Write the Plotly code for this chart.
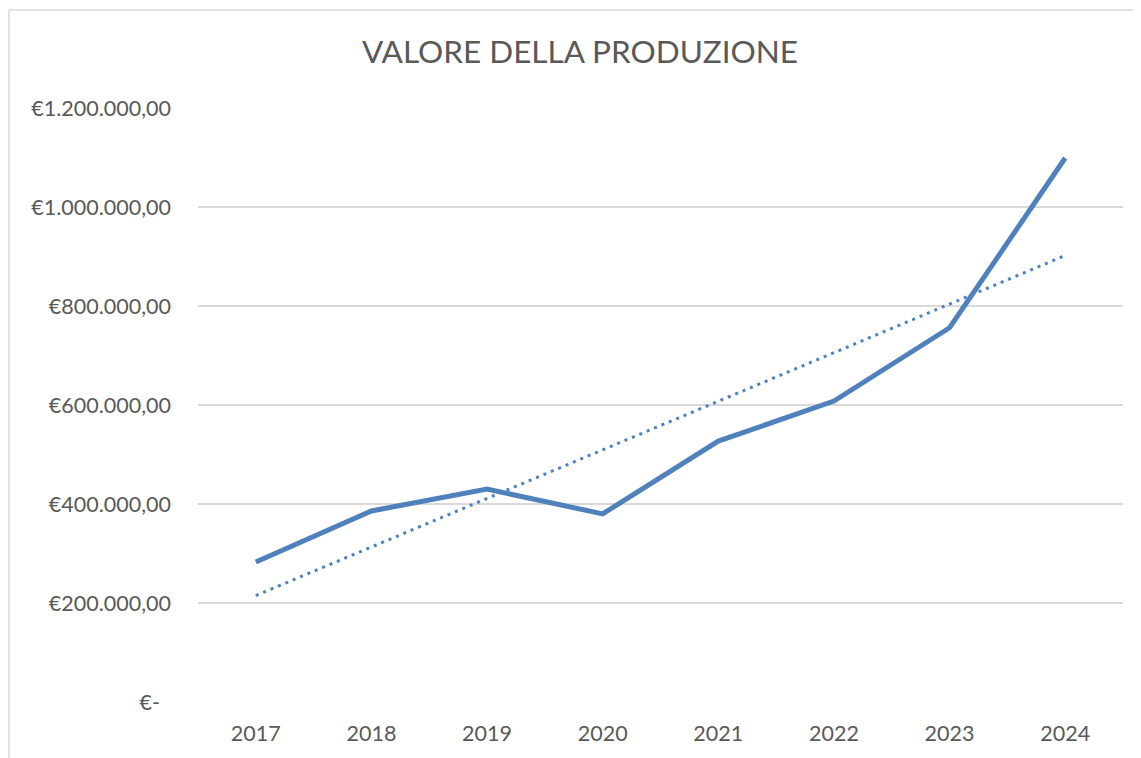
import plotly.graph_objects as go

FONT = "Lato, 'Noto Sans', sans-serif"
LINE_COLOR = "#4F81BD"
GRID_COLOR = "#D9D9D9"
TEXT_COLOR = "#595959"

years = ["2017", "2018", "2019", "2020", "2021", "2022", "2023", "2024"]
valore = [283000, 386000, 430000, 380000, 527000, 608000, 756000, 1099000]

trend_years = ["2017", "2024"]
trend_values = [215000, 902000]

tick_vals = [0, 200000, 400000, 600000, 800000, 1000000, 1200000]
tick_text = ["€-\u00a0\u00a0", "€200.000,00", "€400.000,00", "€600.000,00",
             "€800.000,00", "€1.000.000,00", "€1.200.000,00"]

# the page body adds an 8px offset, so positions are shifted by 8px
W, H = 1141, 758
L, R, T, B = 190, 26, 100, 64
pw, ph = W - L - R, H - T - B

fig = go.Figure()
fig.add_trace(go.Scatter(
    x=trend_years, y=trend_values, mode="lines",
    line=dict(color=LINE_COLOR, width=3, dash="3px,5px"),
    hoverinfo="skip", showlegend=False,
))
fig.add_trace(go.Scatter(
    x=years, y=valore, mode="lines",
    line=dict(color=LINE_COLOR, width=5),
    showlegend=False,
))

# chart border (left and top edges visible in the reference)
fig.add_shape(type="line", xref="paper", yref="paper",
              x0=(1 - L) / pw, x1=(W + 5 - L) / pw,
              y0=(H - B - 2) / ph, y1=(H - B - 2) / ph,
              line=dict(color=GRID_COLOR, width=1.5))
fig.add_shape(type="line", xref="paper", yref="paper",
              x0=(1 - L) / pw, x1=(1 - L) / pw,
              y0=(H - B - 2) / ph, y1=-(B + 5) / ph,
              line=dict(color=GRID_COLOR, width=1.5))

fig.update_layout(
    width=W, height=H,
    margin=dict(l=L, r=R, t=T, b=B),
    plot_bgcolor="white", paper_bgcolor="white",
    font=dict(family=FONT, color=TEXT_COLOR, size=21.5),
    title=dict(text="VALORE DELLA PRODUZIONE", x=572 / W, xanchor="center",
               y=1 - 44 / H, yanchor="middle",
               font=dict(size=31.5, color=TEXT_COLOR, family=FONT)),
    xaxis=dict(type="category", categoryorder="array", categoryarray=years,
               range=[-0.5, 7.5], showgrid=False,
               showline=False, zeroline=False, ticks="",
               ticklabelstandoff=16),
    yaxis=dict(range=[0, 1200000], tickvals=tick_vals, ticktext=tick_text,
               showgrid=True, gridcolor=GRID_COLOR, gridwidth=1.5,
               zeroline=False, showline=False, ticks="",
               ticklabelstandoff=26),
)

fig.write_html("out.html")
